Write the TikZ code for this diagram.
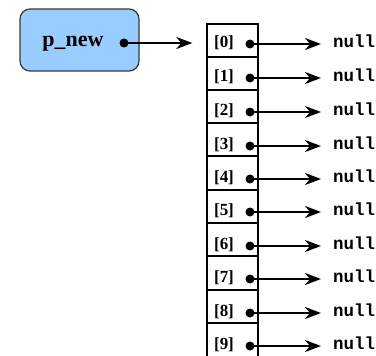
\documentclass[tikz,border=0pt]{standalone}
\usepackage{fontspec}
\setmainfont{Liberation Serif}
\setmonofont{Liberation Mono}
\usetikzlibrary{arrows.meta}
\tikzset{>={Stealth[length=16pt, width=12pt, inset=5pt]}}

\begin{document}
\begin{tikzpicture}[x=1pt, y=-1pt,
    ptrbox/.style={draw={rgb,255:red,55;green,55;blue,55}, line width=1.2pt, rounded corners=10pt,
        fill={rgb,255:red,153;green,204;blue,255}, minimum width=119pt, minimum height=62pt},
    cell/.style={draw, line width=1.4pt, minimum width=51pt, inner sep=0pt},
    idx/.style={font=\bfseries\fontsize{17}{17}\selectfont, inner sep=0pt},
    nil/.style={font=\ttfamily\bfseries\fontsize{17.5}{17.5}\selectfont, anchor=base west, inner xsep=12pt, inner ysep=0pt},
    dotc/.style={circle, fill=black, minimum size=9pt, inner sep=0pt},
    link/.style={line width=2.4pt, ->}]
\useasboundingbox (0,0) rectangle (376,356);

% pointer variable
\node[ptrbox] (pnew) at (79.5,40) {};
\node[font=\bfseries\fontsize{22}{22}\selectfont, inner sep=0pt, anchor=base] (pname) at (73,46) {p\_new};
\node[dotc] (pdot) at (124,43) {};

% array of ten references: index/top/bottom/row
\foreach \k/\t/\b/\y in {0/24/57/44, 1/57/90/78, 2/90/123/112, 3/123/156/146, 4/156/190/179,
    5/190/223/212, 6/223/256/246, 7/256/290/279, 8/290/323/313, 9/323/358/346} {
  \node[cell, minimum height={\b pt-\t pt}] (c\k) at (232.5,{(\t+\b)/2}) {};
  \node[idx] (i\k) at (224,\y-1) {[\k]};
  \node[dotc] (d\k) at (250,\y) {};
  \node[nil] (n\k) at (321,\y+3.5) {null};
  \draw[link] (d\k.center) -- (d\k -| n\k.west);
}

\draw[link, shorten >=14pt] (pdot.center) -- (pdot -| c0.west);
\end{tikzpicture}
\end{document}
